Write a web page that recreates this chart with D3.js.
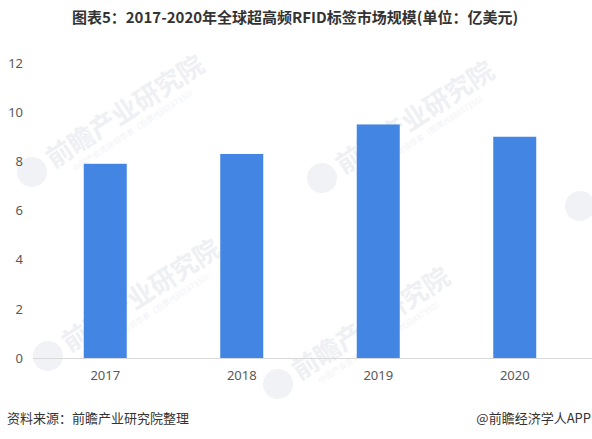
<!DOCTYPE html>
<html>
<head>
<meta charset="utf-8">
<script src="https://d3js.org/d3.v7.min.js"></script>
<style>
	body { margin: 0; background: #fff; }
	svg { display: block; font-family: "Noto Sans CJK SC", "Noto Sans", sans-serif; }
	.tick text { fill: #595959; font-size: 13px; font-family: "Noto Sans", "DejaVu Sans", sans-serif; }
	.wm { fill: #eef0f4; font-weight: bold; }
	.wm-sub { fill: #f2f3f6; }
</style>
</head>
<body>
<svg id="chart" width="592" height="439"></svg>
<script>
// data
var years = ["2017", "2018", "2019", "2020"];
var values = [7.9, 8.3, 9.5, 9.0];
var yTicks = [0, 2, 4, 6, 8, 10, 12];

var title = "图表5：2017-2020年全球超高频RFID标签市场规模(单位：亿美元)";
var source = "资料来源：前瞻产业研究院整理";
var brand = "@前瞻经济学人APP";

var svg = d3.select("#chart");

// watermarks (behind everything)
var marks = [
	{x: 32, y: 172, text: true},
	{x: 322, y: 178, text: true},
	{x: 48, y: 356, text: true},
	{x: 278, y: 384, text: true},
	{x: 580, y: 206, text: false}
];
var wm = svg.append("g");
marks.forEach(function(m) {
	var g = wm.append("g").attr("transform", "translate(" + m.x + "," + m.y + ") rotate(-33)");
	g.append("circle").attr("r", 15).attr("fill", "#f0f2f5");
	if (!m.text) return;
	g.append("text").attr("class", "wm").attr("x", 20).attr("y", 9)
		.style("font-size", "26px").text("前瞻产业研究院");
	g.append("text").attr("class", "wm-sub").attr("x", 36).attr("y", 23)
		.style("font-size", "8px").text("中国产业咨询领导者（股票代码837350）");
});

var x = d3.scaleBand()
	.domain(years)
	.range([37, 583])
	.paddingInner(0.685)
	.paddingOuter(0.3425);

var y = d3.scaleLinear()
	.domain([0, 12])
	.range([358, 63]);

// bars
svg.append("g").selectAll("rect")
	.data(values)
	.enter().append("rect")
	.attr("x", function(d, i) { return x(years[i]); })
	.attr("y", function(d) { return y(d); })
	.attr("width", x.bandwidth())
	.attr("height", function(d) { return y(0) - y(d); })
	.attr("fill", "#4285E2");

// y axis (labels only)
var yAxis = svg.append("g")
	.attr("transform", "translate(23,0)")
	.call(d3.axisLeft(y).tickValues(yTicks).tickSize(0).tickPadding(0).tickFormat(d3.format("d")));
yAxis.select(".domain").remove();

// x axis
var xAxis = svg.append("g")
	.attr("transform", "translate(0," + y(0) + ")")
	.call(d3.axisBottom(x).tickSize(0).tickPadding(13));
xAxis.select(".domain").attr("stroke", "#d9d9d9").attr("d", "M33,0.5H592");

// title
svg.append("text")
	.attr("x", 295).attr("y", 23)
	.attr("text-anchor", "middle")
	.style("font-size", "15px").style("font-weight", "bold").attr("fill", "#333")
	.text(title);

// footer
svg.append("text")
	.attr("x", 7).attr("y", 423)
	.style("font-size", "13px").attr("fill", "#333")
	.text(source);
svg.append("text")
	.attr("x", 591).attr("y", 423)
	.attr("text-anchor", "end")
	.style("font-size", "13px").attr("fill", "#333")
	.text(brand);
</script>
</body>
</html>
